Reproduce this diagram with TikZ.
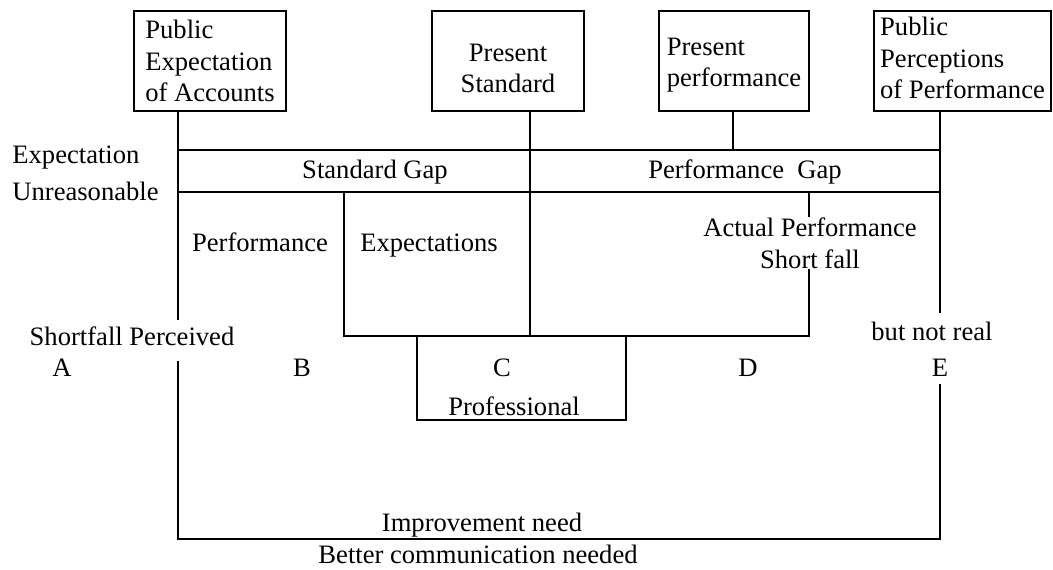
\documentclass[tikz,border=0pt]{standalone}
\usepackage{fontspec}
\setmainfont{Liberation Serif}
\usepackage{tikz}
\usetikzlibrary{positioning}

\begin{document}
\begin{tikzpicture}[x=0.5pt,y=-0.5pt,
    every node/.style={font=\fontsize{13.3}{15.8}\selectfont,inner sep=0pt},
    topbox/.style={draw,rectangle,line width=0.9pt,minimum height=50pt,align=left},
    lbl/.style={text height=0.7em,text depth=0.22em,yshift=-2pt},
    gapline/.style={line width=0.7pt}]
    \useasboundingbox (0,0) rectangle (1053,569);

    % boxes on top
    \node[topbox,minimum width=76pt] (acc) at (210,61) {Public\\Expectation\\of Accounts};
    \node[topbox,minimum width=76pt,align=center] (std) at (508,61) {\rule{0pt}{16pt}Present\\Standard};
    \node[topbox,minimum width=75pt] (perf) at (734,61) {\rule{0pt}{13pt}Present\\performance};
    \node[topbox,minimum width=88.5pt] (perc) at (962.5,61) {Public\\Perceptions\\of Performance\rule[-3pt]{0pt}{0pt}};

    % labels
    \node[lbl,anchor=west] (expt) at (12,155) {Expectation};
    \node[lbl,anchor=west] (unr) at (12,192) {Unreasonable};
    \node[lbl] (stdgap) at (375,170) {Standard Gap};
    \node[lbl] (perfgap) at (745,170) {Performance\ \ Gap};
    \node[lbl] (lperf) at (260,243) {Performance};
    \node[lbl] (lexp) at (429,243) {Expectations};
    \node[align=center] (actual) at (810,243) {Actual Performance\\Short fall};
    \node[lbl] (perceived) at (132,337) {Shortfall Perceived};
    \node[lbl] (notreal) at (932,332) {but not real};
    \node[lbl] (la) at (62,368) {A};
    \node[lbl] (lb) at (302,368) {B};
    \node[lbl] (lc) at (502,368) {C};
    \node[lbl] (ld) at (748,368) {D};
    \node[lbl] (le) at (940,368) {E};
    \node[lbl] (prof) at (514,407) {Professional};
    \node[lbl] (improve) at (482,523) {Improvement need};
    \node[lbl] (better) at (478,555) {Better communication needed};

    % junctions
    \coordinate (ua) at (178,150);
    \coordinate (ue) at (940,150);
    \coordinate (la1) at (178,192);
    \coordinate (le1) at (940,192);
    \coordinate (ba) at (178,539);
    \coordinate (be) at (940,539);
    \coordinate (mb) at (344,336);
    \coordinate (md) at (809,336);

    % lines
    \draw[gapline] (acc.south -| ua) -- (178,320);
    \draw[gapline] (178,361) -- (ba) -- (be) -- (940,384);
    \draw[gapline] (perc.south -| ue) -- (940,313);
    \draw[gapline] (ua) -- (ue);
    \draw[gapline] (la1) -- (le1);
    \draw[gapline] (std.south -| 530,0) -- (530,336);
    \draw[gapline] (perf.south -| 733,0) -- (733,150);
    \draw[gapline] (344,192) -- (mb) -- (md) -- (actual.south -| md);
    \draw[gapline] (actual.north -| md) -- (809,192);
    \draw[gapline] (417,336) -- (417,420) -- (626,420) -- (626,336);

  \end{tikzpicture}
\end{document}
